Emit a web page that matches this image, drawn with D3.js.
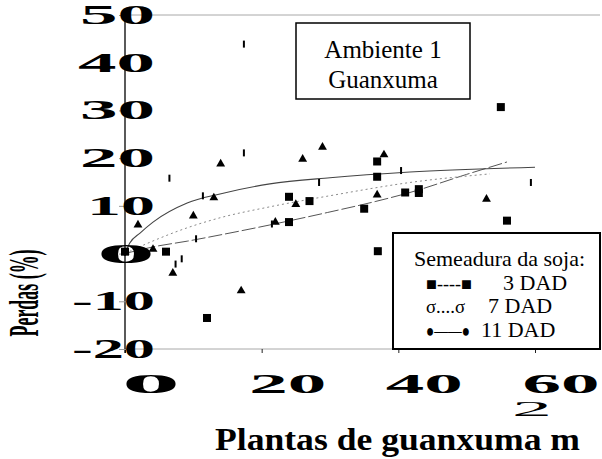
<!DOCTYPE html>
<html><head><meta charset="utf-8">
<script src="https://cdn.jsdelivr.net/npm/d3@7"></script>
<style>body{margin:0;background:#fff}svg{display:block}</style>
</head><body>
<svg id="c" width="602" height="459"></svg>
<script>
// ---- data ----
const xTicks = [0, 20, 40, 60];
const yTicks = [50, 40, 30, 20, 10, 0, -10, -20];
const titleLines = ["Ambiente 1", "Guanxuma"];
const legendTitle = "Semeadura da soja:";
const seriesNames = ["3 DAD", "7 DAD", "11 DAD"];
const legendSymbols = ["\u25A0----\u25A0", "\u03C3....\u03C3", "\u25CF\u2014\u2014\u25CF"];
const xTitle = "Plantas de guanxuma m";
const xTitleSup = "2";
const yTitle = "Perdas (%)";

// observed points (x: plants m-2, y: %)
const dad3Points = [[0,0.4],[6.0,0.4],[12.0,-13.5],[24.0,11.9],[24.0,6.6],[27.0,11.0],[35.0,9.4],[36.9,19.3],[36.9,16.1],[37.0,0.5],[41.0,12.8],[43.0,13.5],[43.0,12.7],[55.0,30.7],[55.9,6.9]];
const dad7Points = [[1.9,6.0],[4.1,0.9],[7.0,-4.1],[10.0,7.9],[13.0,11.7],[14.0,18.8],[17.0,-7.8],[22.0,6.6],[25.0,10.3],[26.0,19.8],[28.9,22.3],[36.9,12.3],[37.9,20.7],[52.9,11.4]];
const dad11Points = [[0,0.3],[0.4,10.0],[6.5,15.8],[7.4,-2.2],[8.3,-1.1],[10.4,3.1],[11.4,12.1],[17.4,43.9],[17.4,21.1],[21.5,6.2],[28.4,14.9],[40.4,17.4],[59.4,14.9]];

// fitted curves
const dad3Fit = [[0,0],[4.1,1.4],[9.1,2.6],[13.9,3.9],[21.2,6.0],[29.6,8.6],[36.6,10.9],[41.7,12.8],[50,16.6],[55.9,19.2]];
const dad7Fit = [[0,0],[3.7,2.4],[9.1,5.4],[13.9,7.5],[21.2,9.8],[30.7,12.3],[41.7,14.9],[53.4,16.7]];
const dad11Fit = [[0,0],[0.7,2.2],[2.2,4.3],[4.1,6.6],[9.1,10.6],[13.9,12.5],[21.2,14.6],[30,15.9],[41.7,17.1],[60,18.1]];

// ---- drawing ----
const svg = d3.select("#c");
const x = d3.scaleLinear().domain([0, 60]).range([125, 535]);
const y = d3.scaleLinear().domain([-20, 50]).range([349, 15]);
const serif = "Liberation Serif, Tinos, Times New Roman, serif";

// plot frame lines (top & bottom), grey
svg.append("line").attr("x1", x(0)).attr("x2", 600).attr("y1", y(50)).attr("y2", y(50))
  .attr("stroke", "#a8a8a8").attr("stroke-width", 1);
svg.append("line").attr("x1", x(0)).attr("x2", 600).attr("y1", y(-20)).attr("y2", y(-20))
  .attr("stroke", "#a8a8a8").attr("stroke-width", 1);

// x axis ticks
const xAxis = d3.axisBottom(x).tickValues(xTicks).tickSize(4).tickFormat("");
const gx = svg.append("g").attr("transform", `translate(0,${y(-20)})`).call(xAxis);
gx.select(".domain").remove();
gx.selectAll(".tick line").attr("stroke", "#222");

// y axis line + ticks
const yAxis = d3.axisLeft(y).tickValues(yTicks).tickSize(6).tickFormat("");
const gy = svg.append("g").attr("transform", `translate(${x(0)},0)`).call(yAxis);
gy.select(".domain").attr("stroke", "#000").attr("stroke-width", 1.3).attr("d", `M0,${y(50)}V${y(-20)+4}`);
gy.selectAll(".tick line").attr("stroke", "#999").attr("x2", 5).attr("x1", -6);

// fitted curves
const line = d3.line().x(d => x(d[0])).y(d => y(d[1])).curve(d3.curveMonotoneX);
svg.append("path").attr("d", line(dad3Fit)).attr("fill", "none")
  .attr("stroke", "#555").attr("stroke-width", 1).attr("stroke-dasharray", "14,3");
svg.append("path").attr("d", line(dad7Fit)).attr("fill", "none")
  .attr("stroke", "#8a8a8a").attr("stroke-width", 1).attr("stroke-dasharray", "2,3");
svg.append("path").attr("d", line(dad11Fit)).attr("fill", "none")
  .attr("stroke", "#444").attr("stroke-width", 1.1);

// markers
svg.append("g").selectAll("rect").data(dad3Points).join("rect")
  .attr("x", d => x(d[0]) - 4).attr("y", d => y(d[1]) - 4)
  .attr("width", 8).attr("height", 8).attr("fill", "#000");
const tri = d3.symbol().type(d3.symbolTriangle).size(34);
svg.append("g").selectAll("path").data(dad7Points).join("path")
  .attr("d", tri).attr("transform", d => `translate(${x(d[0])},${y(d[1])})`).attr("fill", "#000");
svg.append("g").selectAll("rect").data(dad11Points).join("rect")
  .attr("x", d => x(d[0]) - 1).attr("y", d => y(d[1]) - 3.5)
  .attr("width", 2).attr("height", 7).attr("fill", "#000");

// y tick labels (stretched)
const yLabW = {"50":75,"40":77,"30":75,"20":75,"10":68,"0":58,"-10":83,"-20":83};
svg.append("g").selectAll("text").data(yTicks).join("text")
  .attr("x", 155).attr("y", d => y(d) + 9)
  .attr("text-anchor", "end")
  .attr("font-family", serif).attr("font-size", 28).attr("font-weight", "bold")
  .attr("textLength", d => yLabW[String(d)]).attr("lengthAdjust", "spacingAndGlyphs")
  .text(d => String(d));

// x tick labels (stretched)
svg.append("g").selectAll("text").data(xTicks).join("text")
  .attr("x", d => x(d) + 26).attr("y", 393)
  .attr("text-anchor", "middle")
  .attr("font-family", serif).attr("font-size", 28).attr("font-weight", "bold")
  .attr("textLength", d => d === 0 ? 58 : 77).attr("lengthAdjust", "spacingAndGlyphs")
  .text(d => String(d));

// axis titles
svg.append("text").attr("x", 215).attr("y", 450)
  .attr("font-family", serif).attr("font-size", 31).attr("font-weight", "bold")
  .attr("textLength", 365).attr("lengthAdjust", "spacingAndGlyphs").text(xTitle);
svg.append("text").attr("x", 512).attr("y", 416)
  .attr("font-family", serif).attr("font-size", 20)
  .attr("textLength", 40).attr("lengthAdjust", "spacingAndGlyphs").text(xTitleSup);
svg.append("text").attr("transform", "translate(38,293) rotate(-90)")
  .attr("text-anchor", "middle")
  .attr("font-family", serif).attr("font-size", 42).attr("font-weight", "bold")
  .attr("textLength", 87).attr("lengthAdjust", "spacingAndGlyphs").text(yTitle);

// title box
svg.append("rect").attr("x", 296).attr("y", 23).attr("width", 174).attr("height", 76)
  .attr("fill", "#fff").attr("stroke", "#000").attr("stroke-width", 1.5);
svg.append("g").selectAll("text").data(titleLines).join("text")
  .attr("x", 383).attr("y", (d, i) => 58 + i * 30)
  .attr("text-anchor", "middle").attr("font-family", serif).attr("font-size", 25)
  .text(d => d);

// legend box
svg.append("rect").attr("x", 393).attr("y", 233).attr("width", 207).attr("height", 116)
  .attr("fill", "#fff").attr("stroke", "#000").attr("stroke-width", 2);
svg.append("text").attr("x", 414).attr("y", 266).attr("font-family", serif)
  .attr("font-size", 22).text(legendTitle);
const legY = [290, 313, 337];
const legLabX = [503, 488, 481];
const legSymW = [46, 39, 44];
svg.append("g").selectAll("text").data(legendSymbols).join("text")
  .attr("x", 426).attr("y", (d, i) => legY[i])
  .attr("font-family", serif).attr("font-size", 18)
  .attr("textLength", (d, i) => legSymW[i]).attr("lengthAdjust", "spacingAndGlyphs")
  .text(d => d);
svg.append("g").selectAll("text").data(seriesNames).join("text")
  .attr("x", (d, i) => legLabX[i]).attr("y", (d, i) => legY[i])
  .attr("font-family", serif).attr("font-size", 22)
  .text(d => d);
</script>
</body></html>
